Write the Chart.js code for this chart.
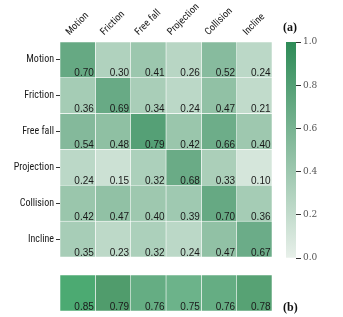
<!DOCTYPE html>
<html><head><meta charset="utf-8">
<script src="https://cdn.jsdelivr.net/npm/chart.js@4.4.1/dist/chart.umd.min.js"></script>
<style>
html,body{margin:0;padding:0;background:#fff;width:343px;height:317px;overflow:hidden;position:relative;}
canvas{position:absolute;}
.tag{position:absolute;font:bold 12px "Liberation Serif","Times New Roman",serif;color:#111;line-height:14px;}
</style></head><body>
<canvas id="hm" width="280" height="262" style="left:0;top:0"></canvas>
<canvas id="hb" width="280" height="55" style="left:0;top:262px"></canvas>
<canvas id="cb" width="63" height="240" style="left:280px;top:30px"></canvas>
<div class="tag" style="left:283px;top:20px">(a)</div>
<div class="tag" style="left:283px;top:300px">(b)</div>
<script>
// ---- data ----
const categories = ['Motion', 'Friction', 'Free fall', 'Projection', 'Collision', 'Incline'];
const motionRow     = [0.70, 0.30, 0.41, 0.26, 0.52, 0.24];
const frictionRow   = [0.36, 0.69, 0.34, 0.24, 0.47, 0.21];
const freeFallRow   = [0.54, 0.48, 0.79, 0.42, 0.66, 0.40];
const projectionRow = [0.24, 0.15, 0.32, 0.68, 0.33, 0.10];
const collisionRow  = [0.42, 0.47, 0.40, 0.39, 0.70, 0.36];
const inclineRow    = [0.35, 0.23, 0.32, 0.24, 0.47, 0.67];
const overallRow    = [0.85, 0.79, 0.76, 0.75, 0.76, 0.78];
const colorbarTicks = [0.0, 0.2, 0.4, 0.6, 0.8, 1.0];

const matrix = [motionRow, frictionRow, freeFallRow, projectionRow, collisionRow, inclineRow];

// ---- colour maps ----
const lightRGB = [232, 240, 234], darkRGB = [46, 139, 87];
function cmapA(v) {
  return 'rgb(' + lightRGB.map((l, k) => Math.round(l + (darkRGB[k] - l) * v)).join(',') + ')';
}
const bStops = [[0.75, [108, 179, 138]], [0.79, [80, 156, 108]], [0.85, [76, 170, 114]]];
function cmapB(v) {
  if (v <= bStops[0][0]) return 'rgb(' + bStops[0][1].join(',') + ')';
  for (let k = 1; k < bStops.length; k++) {
    if (v <= bStops[k][0]) {
      const [v0, c0] = bStops[k - 1], [v1, c1] = bStops[k];
      const t = (v - v0) / (v1 - v0);
      return 'rgb(' + c0.map((c, i) => Math.round(c + (c1[i] - c) * t)).join(',') + ')';
    }
  }
  return 'rgb(' + bStops[bStops.length - 1][1].join(',') + ')';
}

const labelFont = {family: '"Liberation Sans Narrow", "Roboto Condensed", "Liberation Sans", Arial, sans-serif', size: 10};

// ---- plugins ----
const cellText = {
  id: 'cellText',
  afterDatasetsDraw(chart) {
    const ctx = chart.ctx;
    ctx.save();
    ctx.font = '10px "Liberation Sans", Arial, sans-serif';
    ctx.fillStyle = '#1a1a1a';
    ctx.textAlign = 'right';
    ctx.textBaseline = 'alphabetic';
    chart.data.datasets.forEach((ds, j) => {
      const meta = chart.getDatasetMeta(j);
      meta.data.forEach((el, i) => {
        const right = Math.max(el.x, el.base);
        const bottom = el.y + el.height / 2;
        ctx.fillText(ds.values[i].toFixed(2), right - 1.5, bottom - 1.5);
      });
    });
    ctx.restore();
  }
};

const centerRotated = {
  id: 'centerRotated',
  beforeDraw(chart) {
    const sc = chart.scales.x;
    if (!sc || !sc.options.display) return;
    const items = sc.getLabelItems(chart.chartArea);
    const ctx = chart.ctx;
    items.forEach(it => {
      if (it._adj) return;
      ctx.save();
      ctx.font = it.font.string;
      const w = ctx.measureText(it.label).width;
      ctx.restore();
      const lh = it.font.lineHeight;
      it.options.translation[0] += -Math.SQRT1_2 * (w - lh) / 2 + 4;
      it._adj = true;
    });
  }
};

function zeroPad(s) { s.paddingLeft = 0; s.paddingRight = 0; s.paddingTop = 0; s.paddingBottom = 0; }

// ---- heatmap (a) ----
const hmDatasets = categories.map((c, j) => ({
  label: c,
  data: matrix.map(() => [j, j + 1]),
  values: matrix.map(r => r[j]),
  backgroundColor: matrix.map(r => cmapA(r[j])),
  borderColor: '#ffffff',
  borderWidth: 0.6,
  borderSkipped: false,
  barPercentage: 1,
  categoryPercentage: 1,
  grouped: false
}));

new Chart(document.getElementById('hm'), {
  type: 'bar',
  data: {labels: categories, datasets: hmDatasets},
  options: {
    indexAxis: 'y',
    responsive: false, animation: false, events: [], devicePixelRatio: 1,
    layout: {padding: {left: 0, right: 8, top: 0, bottom: 5}},
    plugins: {legend: {display: false}, tooltip: {enabled: false}},
    scales: {
      y: {
        type: 'category', offset: true, position: 'left',
        grid: {offset: false, drawOnChartArea: false, drawTicks: true, tickLength: 4, color: '#333', lineWidth: 1},
        border: {display: false},
        ticks: {font: labelFont, color: '#1a1a1a', padding: 2, autoSkip: false},
        afterFit(s) { s.width = 60; zeroPad(s); }
      },
      x: {
        type: 'linear', position: 'top', min: 0, max: categories.length,
        afterBuildTicks(s) { s.ticks = categories.map((c, j) => ({value: j + 0.5})); },
        grid: {display: false, drawTicks: false},
        border: {display: false},
        ticks: {
          font: labelFont, color: '#1a1a1a', minRotation: 45, maxRotation: 45, autoSkip: false, padding: 4,
          callback: (v, i) => categories[i]
        },
        afterFit(s) { s.height = 42; zeroPad(s); }
      }
    }
  },
  plugins: [cellText, centerRotated]
});

// ---- overall row (b) ----
new Chart(document.getElementById('hb'), {
  type: 'bar',
  data: {
    labels: ['overall'],
    datasets: categories.map((c, j) => ({
      label: c,
      data: [[j, j + 1]],
      values: [overallRow[j]],
      backgroundColor: [cmapB(overallRow[j])],
      borderColor: '#ffffff',
      borderWidth: 0.6,
      borderSkipped: false,
      barPercentage: 1,
      categoryPercentage: 1,
      grouped: false
    }))
  },
  options: {
    indexAxis: 'y',
    responsive: false, animation: false, events: [], devicePixelRatio: 1,
    layout: {padding: {left: 60, right: 8, top: 13, bottom: 6}},
    plugins: {legend: {display: false}, tooltip: {enabled: false}},
    scales: {
      y: {type: 'category', display: false, offset: true},
      x: {type: 'linear', display: false, min: 0, max: categories.length}
    }
  },
  plugins: [cellText]
});

// ---- colour bar ----
new Chart(document.getElementById('cb'), {
  type: 'bar',
  data: {
    labels: [''],
    datasets: [{
      data: [[0, 1]],
      backgroundColor(ctx) {
        const ca = ctx.chart.chartArea;
        if (!ca) return cmapA(0.5);
        const g = ctx.chart.ctx.createLinearGradient(0, ca.bottom, 0, ca.top);
        g.addColorStop(0, cmapA(0));
        g.addColorStop(1, cmapA(1));
        return g;
      },
      borderWidth: 0,
      barPercentage: 1,
      categoryPercentage: 1
    }]
  },
  options: {
    responsive: false, animation: false, events: [], devicePixelRatio: 1,
    layout: {padding: {left: 6, right: 0, top: 12, bottom: 12}},
    plugins: {legend: {display: false}, tooltip: {enabled: false}},
    scales: {
      x: {type: 'category', display: false},
      y: {
        type: 'linear', position: 'right', min: 0, max: 1,
        afterBuildTicks(s) { s.ticks = colorbarTicks.map(v => ({value: v})); },
        grid: {drawOnChartArea: false, drawTicks: true, tickLength: 5, color: '#333', lineWidth: 1},
        border: {display: false},
        ticks: {
          font: {family: '"DejaVu Serif", serif', size: 9}, color: '#555', padding: 2,
          callback: v => Number(v).toFixed(1)
        },
        afterFit(s) { s.width = 47; zeroPad(s); }
      }
    }
  }
});
</script>
</body></html>
